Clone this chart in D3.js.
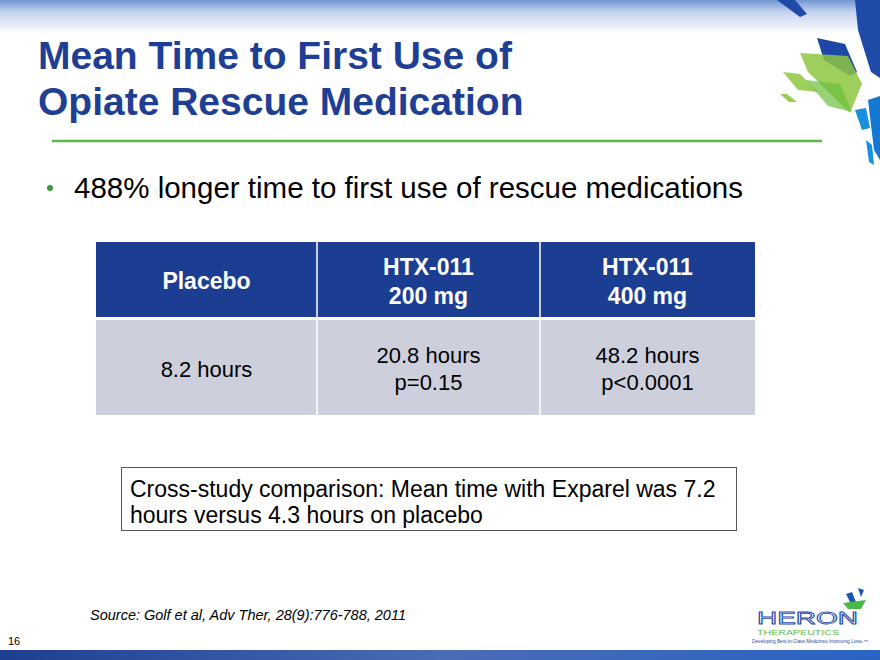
<!DOCTYPE html>
<html lang="en">
<head>
<meta charset="utf-8">
<script src="https://cdn.jsdelivr.net/npm/d3@7"></script>
<style>
  html, body { margin: 0; padding: 0; background: #fff; }
  svg { display: block; font-family: Arial, "Liberation Sans", sans-serif; }
</style>
</head>
<body>
<svg id="slide" width="880" height="660"></svg>
<script>
// table data
var groups = ["Placebo", "HTX-011", "HTX-011"];
var doses = ["", "200 mg", "400 mg"];
var hours = [8.2, 20.8, 48.2];
var pvalues = ["", "p=0.15", "p<0.0001"];

var svg = d3.select("#slide");
var defs = svg.append("defs");

// top fade
var topGrad = defs.append("linearGradient").attr("id", "topfade").attr("x1", 0).attr("y1", 0).attr("x2", 0).attr("y2", 1);
topGrad.append("stop").attr("offset", "0%").attr("stop-color", "#6f95d2");
topGrad.append("stop").attr("offset", "35%").attr("stop-color", "#c3d3ee");
topGrad.append("stop").attr("offset", "100%").attr("stop-color", "#ffffff");
svg.append("rect").attr("x", 0).attr("y", 0).attr("width", 880).attr("height", 34).attr("fill", "url(#topfade)");

// bottom bar
var botGrad = defs.append("linearGradient").attr("id", "botbar").attr("x1", 0).attr("y1", 0).attr("x2", 1).attr("y2", 0);
botGrad.append("stop").attr("offset", "0%").attr("stop-color", "#1d3f8f");
botGrad.append("stop").attr("offset", "50%").attr("stop-color", "#4a6cb6");
botGrad.append("stop").attr("offset", "100%").attr("stop-color", "#2a63c4");
svg.append("rect").attr("x", 0).attr("y", 650).attr("width", 880).attr("height", 10).attr("fill", "url(#botbar)");

// decoration top right
var shapes = [
  {p: "M777,0 L795,0 L807,14 L800,17 Z", c: "#1f4aa8", o: 1},
  {p: "M855,0 L880,0 L880,78 L871,72 L858,30 Z", c: "#1f4aa8", o: 1},
  {p: "M817,38 L845,44 L857,72 L850,76 L824,60 Z", c: "#1d47a6", o: 1},
  {p: "M800,53 L848,56 L862,84 L850,113 L808,72 Z", c: "#8dc63f", o: 0.85},
  {p: "M783,72 L800,74 L818,92 L798,90 Z", c: "#8dc63f", o: 0.85},
  {p: "M780,94 L787,94 L797,102 L789,102 Z", c: "#8dc63f", o: 0.9},
  {p: "M806,80 L840,84 L852,112 L828,106 Z", c: "#6cbf3c", o: 0.7},
  {p: "M855,110 L866,108 L870,128 L862,130 Z", c: "#1a8fde", o: 1},
  {p: "M868,100 L880,96 L880,160 L874,150 Z", c: "#1577d0", o: 1},
  {p: "M866,140 L872,145 L874,165 L869,162 Z", c: "#1a8fde", o: 1}
];
svg.append("g").selectAll("path").data(shapes).join("path")
  .attr("d", function(d){ return d.p; })
  .attr("fill", function(d){ return d.c; })
  .attr("opacity", function(d){ return d.o; });

// title
var title = svg.append("text").attr("x", 38).attr("fill", "#1e3f94")
  .attr("font-size", 39).attr("font-weight", "bold");
title.append("tspan").attr("x", 38).attr("y", 69).text("Mean Time to First Use of");
title.append("tspan").attr("x", 38).attr("y", 115).text("Opiate Rescue Medication");

svg.append("line").attr("x1", 52).attr("x2", 822).attr("y1", 141).attr("y2", 141)
  .attr("stroke", "#5cb84a").attr("stroke-width", 2.5);

// bullet
svg.append("circle").attr("cx", 50).attr("cy", 188).attr("r", 3).attr("fill", "#3a9a3a");
svg.append("text").attr("x", 74).attr("y", 198).attr("font-size", 29.5).attr("fill", "#000")
  .text("488% longer time to first use of rescue medications");

// table: column edges from a piecewise scale
var x = d3.scaleLinear().domain([0, 1, 2, 3]).range([96, 317, 540, 755]);
var headTop = 242, headBot = 317, rowTop = 320, rowBot = 415;

var cols = svg.append("g").selectAll("g").data(groups).join("g");
cols.append("rect")
  .attr("x", function(d, i){ return x(i); })
  .attr("y", headTop).attr("width", function(d, i){ return x(i + 1) - x(i); }).attr("height", headBot - headTop)
  .attr("fill", "#1c3e92");
cols.append("rect")
  .attr("x", function(d, i){ return x(i); })
  .attr("y", rowTop).attr("width", function(d, i){ return x(i + 1) - x(i); }).attr("height", rowBot - rowTop)
  .attr("fill", "#cdcfdc");

cols.each(function(d, i) {
  var g = d3.select(this), cx = x(i + 0.5);
  var h = g.append("text").attr("text-anchor", "middle").attr("fill", "#fff")
    .attr("font-size", 23).attr("font-weight", "bold");
  if (doses[i]) {
    h.append("tspan").attr("x", cx).attr("y", 275).text(d);
    h.append("tspan").attr("x", cx).attr("y", 304).text(doses[i]);
  } else {
    h.append("tspan").attr("x", cx).attr("y", 289).text(d);
  }
  var b = g.append("text").attr("text-anchor", "middle").attr("fill", "#000").attr("font-size", 22);
  if (pvalues[i]) {
    b.append("tspan").attr("x", cx).attr("y", 363).text(hours[i] + " hours");
    b.append("tspan").attr("x", cx).attr("y", 390).text(pvalues[i]);
  } else {
    b.append("tspan").attr("x", cx).attr("y", 377).text(hours[i] + " hours");
  }
});

// column separators
svg.append("g").selectAll("line").data(d3.range(1, groups.length)).join("line")
  .attr("x1", function(i){ return x(i); }).attr("x2", function(i){ return x(i); })
  .attr("y1", headTop).attr("y2", rowBot)
  .attr("stroke", "#fff").attr("stroke-width", 1.5);

// callout
svg.append("rect").attr("x", 121.5).attr("y", 467.5).attr("width", 615).attr("height", 63)
  .attr("fill", "#fff").attr("stroke", "#555").attr("stroke-width", 1);
var call = svg.append("text").attr("font-size", 23).attr("fill", "#000");
call.append("tspan").attr("x", 130).attr("y", 497).text("Cross-study comparison: Mean time with Exparel was 7.2");
call.append("tspan").attr("x", 130).attr("y", 523).text("hours versus 4.3 hours on placebo");

// source + page number
svg.append("text").attr("x", 90).attr("y", 620).attr("font-size", 14.5).attr("font-style", "italic")
  .attr("fill", "#000").text("Source: Golf et al, Adv Ther, 28(9):776-788, 2011");
svg.append("text").attr("x", 8).attr("y", 645).attr("font-size", 11).attr("fill", "#000").text("16");

// logo
var logo = svg.append("g");
logo.append("path").attr("d", "M846,594 L852,592 L856,602 L851,604 Z").attr("fill", "#1e56b5");
logo.append("path").attr("d", "M858,588 L864,590 L861,597 Z").attr("fill", "#1e56b5");
logo.append("path").attr("d", "M843,603 L866,600 L861,609 L848,609 Z").attr("fill", "#4cb848");
logo.append("text").attr("x", 757).attr("y", 624).attr("font-size", 16.5).attr("fill", "none")
  .attr("stroke", "#2a4aa8").attr("stroke-width", 0.8).attr("textLength", 101)
  .attr("lengthAdjust", "spacingAndGlyphs").text("HERON");
logo.append("text").attr("x", 757).attr("y", 635).attr("font-size", 7.5).attr("fill", "#5cc04a")
  .attr("textLength", 82).attr("lengthAdjust", "spacingAndGlyphs").text("THERAPEUTICS");
logo.append("text").attr("x", 752).attr("y", 643).attr("font-size", 4.5).attr("fill", "#2a4aa8")
  .attr("textLength", 116).attr("lengthAdjust", "spacingAndGlyphs")
  .text("Developing Best-in-Class Medicines Improving Lives.\u2122");
</script>
</body>
</html>
